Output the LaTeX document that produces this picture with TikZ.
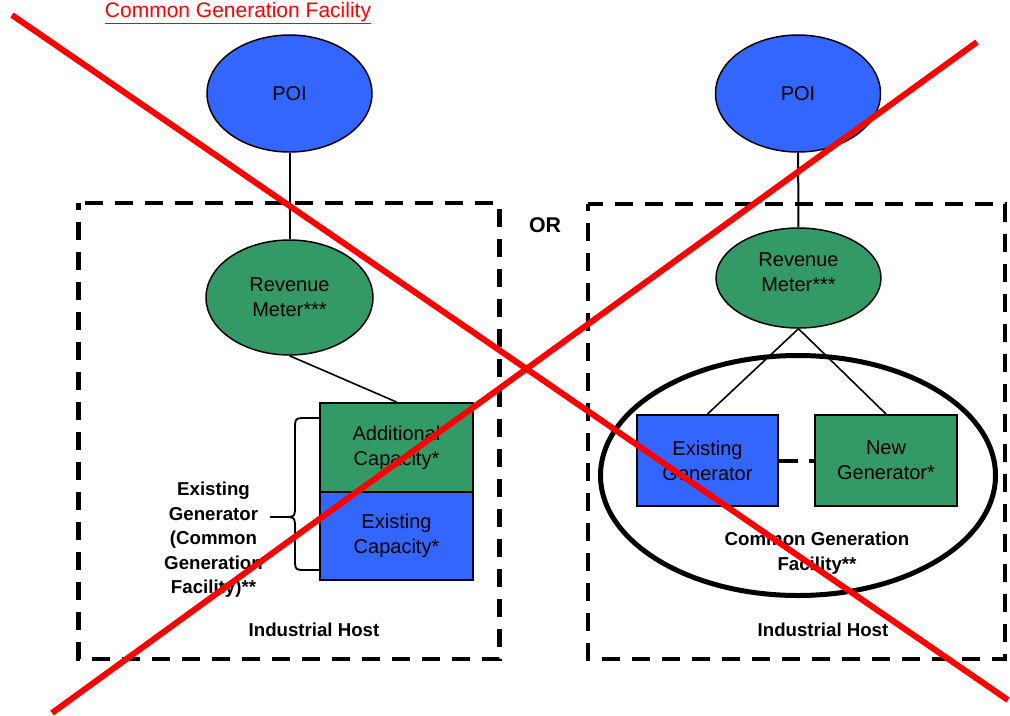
\documentclass[tikz,border=0pt]{standalone}
\usepackage{fontspec}
\setmainfont{Liberation Sans}
\usetikzlibrary{shapes.geometric}
\definecolor{poiblue}{HTML}{3366FF}
\definecolor{metergreen}{HTML}{339966}
\definecolor{crossred}{HTML}{FF0000}

\begin{document}
\begin{tikzpicture}[x=0.75pt,y=-0.75pt,
  every node/.style={font=\fontsize{15}{18.75}\selectfont, align=center, inner sep=0pt},
  boldtext/.style={font=\bfseries\fontsize{14}{18.4}\selectfont},
  oval/.style={ellipse, draw=black, line width=1.1pt},
  poi/.style={oval, fill=poiblue, minimum width=123.75pt, minimum height=87.75pt},
  meter/.style={oval, fill=metergreen},
  block/.style={rectangle, draw=black, line width=1.5pt},
  wire/.style={draw=black, line width=1.5pt},
  hostline/.style={draw=black, line width=3.4pt, dash pattern=on 13.5pt off 9pt, dash phase=8pt},
  crossline/.style={draw=crossred, line width=4.5pt},
]
\useasboundingbox (0,0) rectangle (1010,715);
\clip (0,0) rectangle (1010,715);

% heading
\node[anchor=base, text=crossred, font=\fontsize{15.75}{18}\selectfont] (title) at (238,17)
  {\underline{Common Generation Facility}};

% host boundaries
\draw[hostline] (78.5,203) rectangle (499.5,659);
\draw[hostline] (588,204) rectangle (1005,659);
\node[font=\bfseries\fontsize{16}{18}\selectfont] (or) at (545,225.5) {OR};

% ---- left arrangement ----
\node[poi] (lpoi) at (289.5,93.5) {POI};
\node[meter, minimum width=125.25pt, minimum height=86.25pt] (lmeter) at (289.5,297.5) {Revenue\\Meter***};
\node[block, fill=metergreen, minimum width=114.75pt, minimum height=66.75pt] (addcap) at (396.5,447.5) {Additional\\Capacity*};
\node[block, fill=poiblue, minimum width=114.75pt, minimum height=66pt] (excap) at (396.5,536) {Existing\\Capacity*};
\draw[wire] (lpoi) -- (lmeter);
\draw[wire, line width=1.2pt] (lmeter.south) -- (addcap.north);

% curly brace grouping both capacities
\draw[wire, line width=1.4pt] (320,418) -- (307,418) .. controls (295,418) .. (295,430) -- (295,505)
  .. controls (295,517) .. (283,517) -- (270,517);
\draw[wire, line width=1.4pt] (283,517) .. controls (295,517) .. (295,529) -- (295,558)
  .. controls (295,570) .. (307,570) -- (320,570);
\node[boldtext] (exlabel) at (213.5,540) {Existing\\Generator\\(Common\\Generation\\Facility)**};
\node[boldtext] (lhost) at (314,629.5) {Industrial Host};

% ---- right arrangement ----
\node[poi] (rpoi) at (798,93.5) {POI};
\node[meter, minimum width=123.75pt, minimum height=75pt, text depth=9pt] (rmeter) at (798.5,278) {Revenue\\Meter***};
\node[ellipse, draw=black, line width=3.75pt, minimum width=296.25pt, minimum height=180pt] (cgf) at (798,475.5) {};
\node[block, fill=poiblue, minimum width=105.75pt, minimum height=68.25pt] (exgen) at (707.5,460.5) {Existing\\Generator};
\node[block, fill=metergreen, minimum width=106.5pt, minimum height=68.25pt] (newgen) at (886,460.5) {New\\Generator*};
\draw[wire] (rpoi) -- (rmeter);
\draw[wire, line width=1.2pt] (rmeter.south) -- (exgen.north);
\draw[wire, line width=1.2pt] (rmeter.south) -- (newgen.north);
\draw[draw=black, line width=3pt, dash pattern=on 14.25pt off 8.25pt] (exgen.east) -- (newgen.west);
\node[boldtext] (cgflabel) at (817,553) {Common Generation\\Facility**};
\node[boldtext] (rhost) at (823,629.5) {Industrial Host};

% crossing-out strokes
\draw[crossline] (12,15) -- (1008,700);
\draw[crossline] (977,42) -- (52,713);
\end{tikzpicture}
\end{document}
